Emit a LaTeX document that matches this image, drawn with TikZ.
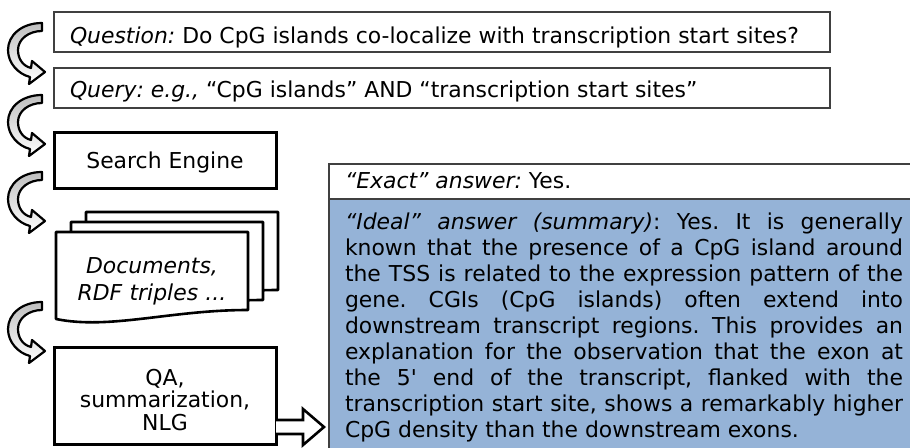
\documentclass[tikz,border=0pt]{standalone}
\usepackage{fontspec}
\setmainfont{DejaVu Sans}
\usetikzlibrary{calc}
\definecolor{ansblue}{HTML}{95B3D7}
\definecolor{edgegray}{HTML}{404040}
\newcommand{\straightquote}{{\addfontfeatures{Ligatures=TeXOff}'}}
\tikzset{
  thinbox/.style={draw=edgegray, line width=1.2pt, fill=white, inner sep=0pt, outer sep=0pt},
  thickbox/.style={draw=black, line width=3pt, fill=white, inner sep=0pt, outer sep=0pt},
  bluebox/.style={draw=edgegray, line width=1.2pt, fill=ansblue, inner sep=0pt, outer sep=0pt},
  sheet/.style={draw=black, line width=2.6pt, fill=white, line join=round},
  curl/.style={draw=black, line width=2.2pt, line join=round, top color=gray!50, bottom color=white},
  blockarrow/.style={draw=black, line width=2.6pt, fill=white, line join=miter},
  txt/.style={inner sep=0pt, outer sep=0pt, text=black},
  curlarrow/.pic={
    \path[curl] (0,0) .. controls (-20,0) and (-34,12) .. (-34,27)
      .. controls (-34,40) and (-24,51) .. (-12,54) -- (-13,61) -- (3,49)
      -- (-10,38) -- (-11,45) .. controls (-19,43) and (-24,36) .. (-24,27)
      .. controls (-24,16) and (-13,8) .. (0,8) -- cycle;
  }
}
\begin{document}
\begin{tikzpicture}[x=1pt, y=-1pt, font=\fontsize{21.9}{26}\selectfont\frenchspacing]
\useasboundingbox (0,0) rectangle (910,447);

% top boxes
\node[thinbox, anchor=north west, minimum width=776, minimum height=40] (question) at (54,12) {};
\node[txt, anchor=base west] (qtext) at (70,43) {\textit{Question:} Do CpG islands co-localize with transcription start sites?};
\node[thinbox, anchor=north west, minimum width=776, minimum height=40] (query) at (54,68) {};
\node[txt, anchor=base west] (querytext) at (70,97) {\textit{Query: e.g.,} “CpG islands” AND “transcription start sites”};

% search engine
\node[thickbox, anchor=north west, minimum width=222, minimum height=56] (search) at (54,132) {};
\node[txt, anchor=base] (searchtext) at (165,168) {Search Engine};

% document stack
\path[sheet] (86,212) -- (278,212) -- (278,290) .. controls (200,290) and (140,310) .. (86,299) -- cycle;
\path[sheet] (71,222) -- (263,222) -- (263,300) .. controls (185,300) and (125,320) .. (71,309) -- cycle;
\path[sheet] (56,232) -- (248,232) -- (248,310) .. controls (170,310) and (110,330) .. (56,319) -- cycle;
\node[txt, anchor=base, text width=190, align=center, font=\fontsize{21.9}{27}\selectfont\itshape] (docs) at (152,273) {Documents,\\RDF triples ...};

% QA box
\node[thickbox, anchor=north west, minimum width=222, minimum height=97] (qa) at (54,347) {};
\node[txt, anchor=base, text width=210, align=center, font=\fontsize{21.9}{22.5}\selectfont] (qatext) at (165,385) {QA,\\summarization,\\NLG};

% answer boxes
\node[thinbox, anchor=north west, minimum width=600, minimum height=35] (exactbox) at (329,164) {};
\node[txt, anchor=base west] (exact) at (345,188) {\textit{“Exact” answer:} Yes.};
\node[bluebox, anchor=north west, minimum width=600, minimum height=260] (idealbox) at (329,199) {};
\node[txt, anchor=base west, text width=558, align=justify] (ideal) at (345,229) {\tolerance=10000\hyphenpenalty=10000%
\textit{“Ideal” answer (summary)}: Yes. It is generally\linebreak
known that the presence of a CpG island around\linebreak
the TSS is related to the expression pattern of the\linebreak
gene. CGIs (CpG islands) often extend into\linebreak
downstream transcript regions. This provides an\linebreak
explanation for the observation that the exon at\linebreak
the 5\straightquote{} end of the transcript, flanked with the\linebreak
transcription start site, shows a remarkably higher\linebreak
CpG density than the downstream exons.};

% curved arrows between steps
\pic at (42,23) {curlarrow};
\pic at (42,95) {curlarrow};
\pic at (42,172) {curlarrow};
\pic at (42,302) {curlarrow};

% block arrow from QA to the answer
\coordinate (arrowstart) at (qa.east |- 0,427);
\path[blockarrow] ($(arrowstart)+(0,-7)$) -- (303,420) -- (303,409) -- (324,427) -- (303,445) -- (303,434) -- ($(arrowstart)+(0,7)$);
\end{tikzpicture}
\end{document}
